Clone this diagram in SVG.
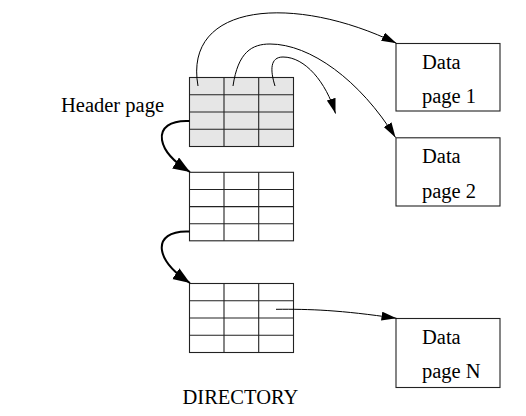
<svg xmlns="http://www.w3.org/2000/svg" width="526" height="416" viewBox="0 0 526 416">
<defs>
<style>
.t{font-family:"Liberation Serif","Times New Roman",serif;font-size:20.5px;fill:#000}
.grid{stroke:#222;stroke-width:1.1;fill:none}
.hdr{stroke:#222;stroke-width:1.1;fill:#e6e6e6}
.box{stroke:#222;stroke-width:1.1;fill:#fff}
.thin{stroke:#000;stroke-width:1;fill:none}
.thick{stroke:#000;stroke-width:2;fill:none}
</style>
<marker id="ah" markerUnits="userSpaceOnUse" markerWidth="16" markerHeight="10" refX="15" refY="4.5" orient="auto">
<path d="M0,0 L15,4.5 L0,9 z" fill="#000"/>
</marker>
<marker id="ahb" markerUnits="userSpaceOnUse" markerWidth="18" markerHeight="14" refX="17" refY="6.5" orient="auto">
<path d="M0,0 L17,6.5 L0,13 z" fill="#000"/>
</marker>
</defs>
<rect width="526" height="416" fill="#fff"/>

<g id="header-label"><text class="t" x="61" y="111.5">Header page</text></g>

<g id="table1">
<rect x="189.5" y="77.5" width="104" height="69" class="hdr"/>
<path class="grid" d="M224,77.5V146.5M258.7,77.5V146.5M189.5,94.8H293.5M189.5,112H293.5M189.5,129.3H293.5"/>
</g>
<g id="table2">
<rect x="189.5" y="172.3" width="104" height="68.5" class="box"/>
<path class="grid" d="M224,172.3V240.8M258.7,172.3V240.8M189.5,189.5H293.5M189.5,206.6H293.5M189.5,223.7H293.5"/>
</g>
<g id="table3">
<rect x="189.5" y="283.5" width="104" height="69" class="box"/>
<path class="grid" d="M224,283.5V352.5M258.7,283.5V352.5M189.5,300.8H293.5M189.5,318H293.5M189.5,335.3H293.5"/>
</g>

<g id="data1">
<rect x="396" y="43.5" width="104" height="67.5" class="box"/>
<text class="t" x="422" y="68.5">Data</text>
<text class="t" x="422" y="103">page 1</text>
</g>
<g id="data2">
<rect x="396" y="137.8" width="104" height="68.2" class="box"/>
<text class="t" x="422" y="163">Data</text>
<text class="t" x="422" y="197.5">page 2</text>
</g>
<g id="dataN">
<rect x="396" y="318.5" width="104" height="69" class="box"/>
<text class="t" x="422" y="343.5">Data</text>
<text class="t" x="422" y="378">page N</text>
</g>

<g id="dir-label"><text class="t" x="182.5" y="404">DIRECTORY</text></g>

<g id="connectors">
<path class="thin" marker-end="url(#ah)" d="M198,86 C183,2 295,-6 396.5,43.3"/>
<path class="thin" marker-end="url(#ah)" d="M233,86 C238,52 252,44 270,44 C310,44 360,80 395.5,137.5"/>
<path class="thin" marker-end="url(#ah)" d="M275,86 C270,70 270,57 283,57 C305,57 326,82 335.5,113.5"/>
<path class="thick" marker-end="url(#ahb)" d="M189.5,121 C170,120 160,128 162,140 C164,152 174,162 190,172"/>
<path class="thick" marker-end="url(#ahb)" d="M189.5,231.5 C170,230.5 160,238.5 162,250.5 C164,262.5 174,272.5 190,283"/>
<path class="thin" marker-end="url(#ah)" d="M276,309.3 C310,309 340,310 396.5,318.3"/>
</g>
</svg>
